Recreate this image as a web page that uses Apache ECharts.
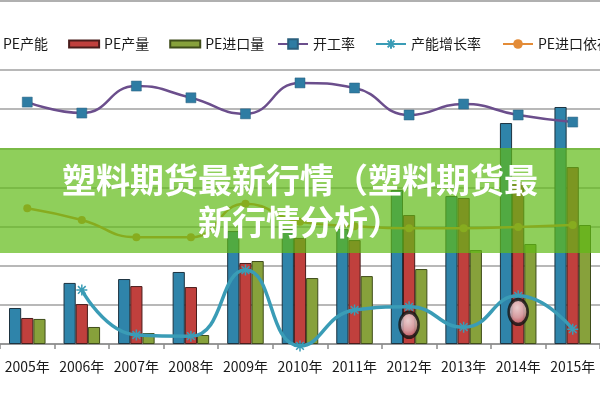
<!DOCTYPE html>
<html><head><meta charset="utf-8">
<script src="https://cdn.jsdelivr.net/npm/echarts@6/dist/echarts.min.js"></script>
<style>html,body{margin:0;padding:0;background:#fff}#c{width:600px;height:400px}</style>
</head><body><div id="c"></div>
<script>
const years = ['2005年','2006年','2007年','2008年','2009年','2010年','2011年','2012年','2013年','2014年','2015年'];
const peCapacity = [184, 312, 332, 368, 577, 588, 588, 787, 756, 1129, 1211];
const peOutput = [133, 204, 296, 291, 414, 542, 531, 659, 746, 828, 904];
const peImport = [128, 87, 56, 46, 424, 337, 347, 383, 480, 511, 608];
const operatingRate = [61.8, 59.0, 65.9, 62.9, 58.8, 66.7, 65.4, 58.5, 61.3, 58.5, 56.7];
const capacityGrowth = [null, 13.8, 2.3, 2.0, 18.9, -0.5, 8.7, 9.5, 4.3, 12.3, 3.8];
const importDependence = [34.7, 31.7, 27.3, 27.3, 35.8, 31.2, 30.1, 29.6, 29.6, 29.9, 30.4];
const highlightPoints = [null, null, null, null, null, null, null, 4.9, null, 8.2, null];
const titleText = '塑料期货最新行情（塑料期货最新行情分析）';

const FONT = '"Noto Sans CJK SC", "Noto Sans", sans-serif';
const legendText = {fontSize: 14, color: '#1a1a1a', fontFamily: FONT, lineHeight: 16};
const chart = echarts.init(document.getElementById('c'), null, {renderer: 'canvas'});
chart.setOption({
  animation: false,
  backgroundColor: '#ffffff',
  legend: [
    {left: -38, top: 31, itemWidth: 30, itemHeight: 7, itemGap: 20, icon: 'rect',
     data: ['PE产能', 'PE产量', 'PE进口量'], textStyle: legendText},
    {left: 272, top: 31, itemWidth: 30, itemHeight: 12, itemGap: 20, data: ['开工率', '产能增长率'], textStyle: legendText},
    {left: 497, top: 31, itemWidth: 30, itemHeight: 12, itemGap: 20, data: ['PE进口依存度'], textStyle: legendText}
  ],
  grid: {left: -8.5, right: -13, top: 70, bottom: 56},
  xAxis: {
    type: 'category', data: years, boundaryGap: true,
    axisLine: {lineStyle: {color: '#8c8c8c', width: 1.5}},
    axisTick: {show: true, length: 5, lineStyle: {color: '#8c8c8c', width: 1.5}},
    axisLabel: {fontSize: 14, color: '#1a1a1a', margin: 16, interval: 0, fontFamily: FONT}
  },
  yAxis: [
    {type: 'value', min: 0, max: 1400, interval: 200,
     axisLabel: {show: false}, axisLine: {show: false}, axisTick: {show: false},
     splitLine: {lineStyle: {color: '#a0a0a0', width: 1.5}}},
    {type: 'value', min: 0, max: 70, interval: 10,
     axisLabel: {show: false}, axisLine: {show: false}, axisTick: {show: false},
     splitLine: {show: false}}
  ],
  series: [
    {name: 'PE产能', type: 'bar', data: peCapacity, barGap: '0%', barCategoryGap: '33%',
     itemStyle: {color: '#2f84aa', borderColor: '#1d3340', borderWidth: 1}},
    {name: 'PE产量', type: 'bar', data: peOutput, barGap: '0%', barCategoryGap: '33%',
     itemStyle: {color: '#c0403d', borderColor: '#4a1c1b', borderWidth: 1}},
    {name: 'PE进口量', type: 'bar', data: peImport, barGap: '0%', barCategoryGap: '33%',
     itemStyle: {color: '#87a13b', borderColor: '#3f4d1a', borderWidth: 1}},
    {name: '开工率', type: 'line', yAxisIndex: 1, data: operatingRate, smooth: 0.5,
     symbol: 'rect', symbolSize: 10,
     itemStyle: {color: '#2e7ca3', borderColor: '#2a5f7d', borderWidth: 0.5},
     lineStyle: {color: '#6b4e8c', width: 2.5}},
    {name: '产能增长率', type: 'line', yAxisIndex: 1, data: capacityGrowth, smooth: 0.5, clip: false,
     symbol: 'path://M0,5L10,5M5,0L5,10M1.5,1.5L8.5,8.5M8.5,1.5L1.5,8.5', symbolSize: 11,
     itemStyle: {color: '#3a9cb6', borderColor: '#3a9cb6', borderWidth: 1.5},
     lineStyle: {color: '#3a9cb6', width: 3.5}},
    {name: 'PE进口依存度', type: 'line', yAxisIndex: 1, data: importDependence, smooth: 0.5,
     symbol: 'circle', symbolSize: 8,
     itemStyle: {color: '#e38b37'}, lineStyle: {color: '#e38b37', width: 2.5}},
    {name: '', type: 'scatter', yAxisIndex: 1, data: highlightPoints, symbolSize: [19, 25], z: 5,
     itemStyle: {
       color: {type: 'radial', x: 0.45, y: 0.35, r: 0.65, colorStops: [
         {offset: 0, color: '#f4f0f2'}, {offset: 0.55, color: '#dcb0b6'}, {offset: 1, color: '#b5424d'}]},
       borderColor: '#111', borderWidth: 3}}
  ],
  graphic: [
    {type: 'line', shape: {x1: 0, y1: 1, x2: 600, y2: 1}, style: {stroke: '#b0b0b0', lineWidth: 2}, z: 100},
    {type: 'rect', shape: {x: 0, y: 148, width: 600, height: 105}, style: {fill: 'rgba(95,186,22,0.7)'}, z: 100},
    {type: 'text', x: 300, y: 201, z: 101,
     style: {text: titleText, fill: '#ffffff', fontSize: 34, fontWeight: 'bold', fontFamily: FONT,
             align: 'center', verticalAlign: 'middle', width: 480, overflow: 'break', lineHeight: 42}}
  ]
});
</script></body></html>
